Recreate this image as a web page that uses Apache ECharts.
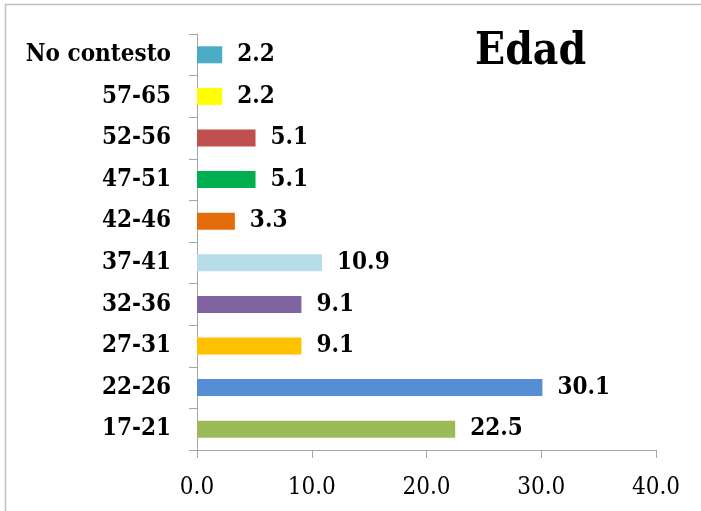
<!DOCTYPE html>
<html><head><meta charset="utf-8">
<script src="https://cdn.jsdelivr.net/npm/echarts@6/dist/echarts.min.js"></script>
<style>html,body{margin:0;padding:0;background:#fff}#c{width:701px;height:511px}</style>
</head><body><div id="c"></div>
<script>
const categories = ['17-21','22-26','27-31','32-36','37-41','42-46','47-51','52-56','57-65','No contesto'];
const values = [22.5, 30.1, 9.1, 9.1, 10.9, 3.3, 5.1, 5.1, 2.2, 2.2];
const colors = ['#9BBB59','#558ED5','#FFC000','#8064A2','#B7DEE8','#E46C0A','#00B050','#C0504D','#FFFF00','#4BACC6'];
const title = 'Edad';
const FONT = '"DejaVu Serif Condensed", "DejaVu Serif", serif';
const chart = echarts.init(document.getElementById('c'), null, {renderer:'canvas'});
chart.setOption({
  animation:false,
  backgroundColor:'#fff',
  title:{text:title, left:470, top:26, textStyle:{fontFamily:FONT, fontWeight:'bold', fontSize:44, color:'#000'}},
  graphic:[{type:'rect', shape:{x:5.5,y:4.5,width:800,height:600}, style:{fill:'none', stroke:'#BFBFBF', lineWidth:1.5}, silent:true}],
  grid:{left:197, right:45, top:34, bottom:61, containLabel:false},
  xAxis:{type:'value', min:0, max:40, interval:10,
    axisLine:{show:true, lineStyle:{color:'#A6A6A6', width:1}},
    axisTick:{show:true, length:8, lineStyle:{color:'#A6A6A6'}},
    splitLine:{show:false},
    axisLabel:{formatter:v=>v.toFixed(1), fontFamily:FONT, fontSize:24, color:'#000', margin:26}},
  yAxis:{type:'category', data:categories,
    axisLine:{show:true, lineStyle:{color:'#A6A6A6', width:1}},
    axisTick:{show:true, length:8, inside:false, alignWithLabel:false, lineStyle:{color:'#A6A6A6'}},
    axisLabel:{fontFamily:FONT, fontWeight:'bold', fontSize:24, color:'#000', margin:26, padding:[5,0,0,0]}},
  series:[{type:'bar', data:values.map((v,i)=>({value:v, itemStyle:{color:colors[i]}})),
    barWidth:17,
    label:{show:true, position:'right', distance:15, padding:[5,0,0,0], formatter:p=>p.value.toFixed(1), fontFamily:FONT, fontWeight:'bold', fontSize:24, color:'#000'}}]
});
</script></body></html>
